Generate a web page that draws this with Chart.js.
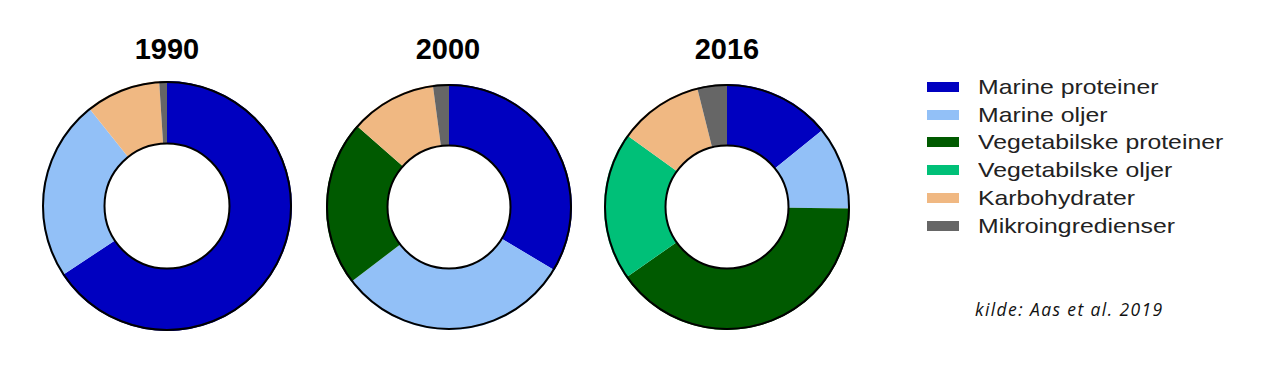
<!DOCTYPE html>
<html>
<head>
<meta charset="utf-8">
<script src="https://cdn.jsdelivr.net/npm/chart.js@4"></script>
<style>
    body { margin: 0; background: #fff; width: 1280px; height: 375px; position: relative; overflow: hidden; }
    .pie { position: absolute; }
    .year { position: absolute; font: bold 29px "Liberation Sans", Arial, sans-serif; color: #000; width: 120px; text-align: center; }
    #legend { position: absolute; left: 927px; top: 73px; font: 21px "Liberation Sans", Arial, sans-serif; color: #222; }
    .row { height: 27.8px; display: flex; align-items: center; }
    .box { width: 32px; height: 10px; margin-right: 19px; }
    .lbl { display: inline-block; transform: scaleX(1.18); transform-origin: left center; white-space: nowrap; }
    #source { position: absolute; left: 975px; top: 297px; font: italic 17.5px "Open Sans", sans-serif; letter-spacing: 1.4px; color: #111; }
</style>
</head>
<body>
<div class="year" style="left:107px; top:33px;">1990</div>
<div class="year" style="left:388px; top:33px;">2000</div>
<div class="year" style="left:667px; top:33px;">2016</div>
<canvas id="chart-1990" class="pie" width="250" height="250" style="left:42px; top:81px;"></canvas>
<canvas id="chart-2000" class="pie" width="246" height="246" style="left:326px; top:84px;"></canvas>
<canvas id="chart-2016" class="pie" width="246" height="246" style="left:604px; top:84px;"></canvas>
<div id="legend"></div>
<div id="source">kilde: Aas et al. 2019</div>
<script>
const categories = ['Marine proteiner', 'Marine oljer', 'Vegetabilske proteiner', 'Vegetabilske oljer', 'Karbohydrater', 'Mikroingredienser'];
const years = ['1990', '2000', '2016'];
const values1990 = [65.7, 23.6, 0, 0, 9.7, 1.0];
const values2000 = [33.6, 31.0, 21.9, 0, 11.4, 2.1];
const values2016 = [14.2, 11.0, 40.1, 19.6, 11.2, 3.9];
const colors = ['#0000C0', '#92C0F7', '#005A00', '#00C078', '#F0B882', '#666666'];

// black ring only on outer and inner edge, no lines between slices
const ringOutline = {
    id: 'ringOutline',
    afterDatasetsDraw(chart) {
        const arc = chart.getDatasetMeta(0).data[0];
        if (!arc) return;
        const ctx = chart.ctx;
        ctx.save();
        ctx.strokeStyle = '#000';
        ctx.lineWidth = 2;
        ctx.beginPath();
        ctx.arc(arc.x, arc.y, arc.outerRadius - 1, 0, Math.PI * 2);
        ctx.stroke();
        ctx.beginPath();
        ctx.arc(arc.x, arc.y, arc.innerRadius, 0, Math.PI * 2);
        ctx.stroke();
        ctx.restore();
    }
};

function makeDoughnut(id, values) {
    new Chart(document.getElementById(id), {
        type: 'doughnut',
        data: {
            labels: categories,
            datasets: [{
                data: values,
                backgroundColor: colors,
                borderWidth: 0,
            }],
        },
        options: {
            responsive: false,
            animation: false,
            cutout: '50%',
            plugins: {
                legend: { display: false },
                tooltip: { enabled: false },
            },
        },
        plugins: [ringOutline],
    });
}

makeDoughnut('chart-1990', values1990);
makeDoughnut('chart-2000', values2000);
makeDoughnut('chart-2016', values2016);

const legend = document.getElementById('legend');
categories.forEach(function (name, i) {
    const row = document.createElement('div');
    row.className = 'row';
    row.innerHTML = '<span class="box" style="background:' + colors[i] + '"></span><span class="lbl">' + name + '</span>';
    legend.appendChild(row);
});
</script>
</body>
</html>
